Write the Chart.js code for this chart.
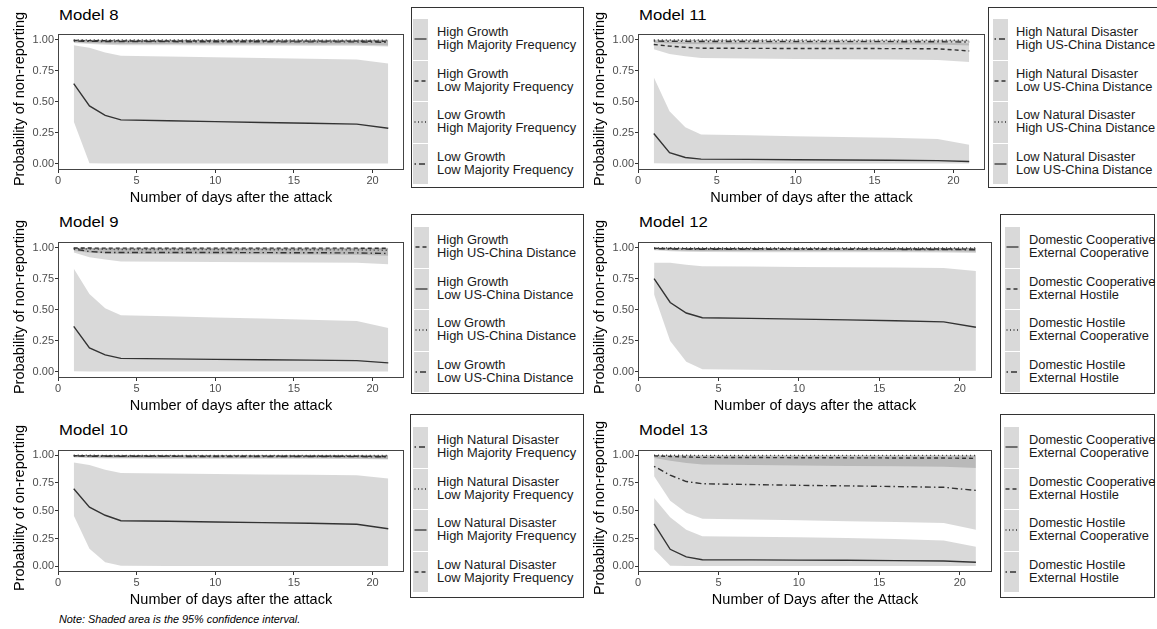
<!DOCTYPE html>
<html>
<head>
<meta charset="utf-8">
<script src="https://cdn.jsdelivr.net/npm/chart.js@4.4.0/dist/chart.umd.min.js"></script>
<style>
html, body { margin: 0; padding: 0; background: #fff; }
body { width: 1157px; height: 629px; position: relative; overflow: hidden; font-family: "Liberation Sans", Arial, sans-serif; }
canvas { position: absolute; }
.title { position: absolute; font-size: 15.5px; line-height: 16px; color: #000; white-space: nowrap; transform: scaleX(1.08); transform-origin: 0 50%; }
.ytitle { position: absolute; width: 240px; height: 16px; font-size: 14.5px; line-height: 16px; text-align: center; color: #000; white-space: nowrap; transform: rotate(-90deg); transform-origin: 50% 50%; }
.legend { position: absolute; border: 1px solid #333; background: #fff; box-sizing: border-box; }
.row { position: absolute; left: 0; right: 0; }
.key { position: absolute; top: 0; width: 15px; background: #d9d9d9; display: flex; align-items: center; justify-content: center; }
.lab { position: absolute; top: 0; display: flex; align-items: center; font-size: 12px; line-height: 13px; color: #1a1a1a; white-space: nowrap; transform: scaleX(1.07); transform-origin: 0 50%; }
.note { position: absolute; left: 59px; top: 615px; font-size: 10px; line-height: 10px; font-style: italic; color: #000; white-space: nowrap; transform: scaleX(1.085); transform-origin: 0 50%; }
</style>
</head>
<body>
<script>
// days after the attack, axis ticks
const days = [1, 2, 3, 4, 7, 10, 13, 16, 19, 21];
const xTicks = [0, 5, 10, 15, 20];
const yTicks = [0, 0.25, 0.5, 0.75, 1];

// Model 8
const m8Solid     = [0.646, 0.467, 0.390, 0.354, 0.347, 0.340, 0.333, 0.327, 0.320, 0.287];
const m8SolidLo   = [0.341, 0.004, 0.003, 0.003, 0.003, 0.003, 0.003, 0.003, 0.003, 0.003];
const m8SolidHi   = [0.956, 0.936, 0.897, 0.872, 0.866, 0.860, 0.853, 0.847, 0.841, 0.808];
const m8Dashed    = [0.995, 0.993, 0.992, 0.991, 0.990, 0.990, 0.990, 0.989, 0.989, 0.987];
const m8DashedLo  = [0.980, 0.974, 0.970, 0.967, 0.966, 0.965, 0.964, 0.963, 0.962, 0.955];
const m8DashedHi  = [0.999, 0.999, 0.999, 0.999, 0.999, 0.999, 0.999, 0.999, 0.999, 0.998];
const m8Dotted    = [0.999, 0.998, 0.998, 0.998, 0.998, 0.998, 0.998, 0.998, 0.997, 0.997];
const m8DottedLo  = [0.994, 0.992, 0.991, 0.990, 0.990, 0.990, 0.989, 0.989, 0.989, 0.987];
const m8DottedHi  = [1.000, 1.000, 1.000, 1.000, 1.000, 1.000, 1.000, 1.000, 1.000, 1.000];
const m8Dotdash   = [0.990, 0.988, 0.986, 0.985, 0.985, 0.984, 0.984, 0.983, 0.983, 0.980];
const m8DotdashLo = [0.975, 0.966, 0.961, 0.957, 0.956, 0.955, 0.954, 0.953, 0.952, 0.945];
const m8DotdashHi = [0.997, 0.996, 0.996, 0.995, 0.995, 0.995, 0.995, 0.995, 0.995, 0.994];

// Model 9
const m9Solid     = [0.367, 0.192, 0.136, 0.108, 0.104, 0.100, 0.097, 0.094, 0.090, 0.072];
const m9SolidLo   = [0.004, 0.003, 0.003, 0.003, 0.003, 0.003, 0.003, 0.003, 0.003, 0.003];
const m9SolidHi   = [0.833, 0.628, 0.513, 0.456, 0.447, 0.438, 0.429, 0.419, 0.410, 0.354];
const m9Dashed    = [0.998, 0.998, 0.997, 0.997, 0.997, 0.997, 0.997, 0.997, 0.997, 0.996];
const m9DashedLo  = [0.990, 0.988, 0.987, 0.986, 0.986, 0.985, 0.985, 0.985, 0.984, 0.982];
const m9DashedHi  = [1.000, 1.000, 1.000, 1.000, 1.000, 1.000, 1.000, 1.000, 1.000, 1.000];
const m9Dotted    = [0.995, 0.990, 0.988, 0.986, 0.986, 0.985, 0.985, 0.984, 0.983, 0.980];
const m9DottedLo  = [0.975, 0.960, 0.955, 0.950, 0.949, 0.948, 0.947, 0.945, 0.943, 0.936];
const m9DottedHi  = [0.999, 0.999, 0.999, 0.999, 0.999, 0.999, 0.999, 0.999, 0.999, 0.999];
const m9Dotdash   = [0.990, 0.970, 0.962, 0.962, 0.962, 0.962, 0.961, 0.960, 0.959, 0.954];
const m9DotdashLo = [0.962, 0.923, 0.905, 0.890, 0.888, 0.886, 0.884, 0.882, 0.880, 0.867];
const m9DotdashHi = [0.998, 0.993, 0.990, 0.990, 0.990, 0.990, 0.990, 0.990, 0.989, 0.988];

// Model 10
const m10Solid     = [0.698, 0.532, 0.460, 0.411, 0.406, 0.400, 0.394, 0.388, 0.379, 0.339];
const m10SolidLo   = [0.457, 0.158, 0.037, 0.006, 0.004, 0.003, 0.003, 0.003, 0.003, 0.003];
const m10SolidHi   = [0.934, 0.911, 0.868, 0.839, 0.835, 0.831, 0.827, 0.823, 0.819, 0.790];
const m10Dashed    = [0.995, 0.994, 0.993, 0.992, 0.992, 0.991, 0.991, 0.991, 0.990, 0.988];
const m10DashedLo  = [0.985, 0.979, 0.976, 0.974, 0.973, 0.973, 0.972, 0.972, 0.971, 0.966];
const m10DashedHi  = [0.999, 0.999, 0.999, 0.999, 0.999, 0.999, 0.999, 0.999, 0.999, 0.999];
const m10Dotted    = [0.999, 0.999, 0.998, 0.998, 0.998, 0.998, 0.998, 0.998, 0.998, 0.997];
const m10DottedLo  = [0.995, 0.993, 0.992, 0.991, 0.991, 0.991, 0.990, 0.990, 0.990, 0.988];
const m10DottedHi  = [1.000, 1.000, 1.000, 1.000, 1.000, 1.000, 1.000, 1.000, 1.000, 1.000];
const m10Dotdash   = [0.993, 0.991, 0.990, 0.989, 0.989, 0.988, 0.988, 0.988, 0.987, 0.985];
const m10DotdashLo = [0.980, 0.974, 0.971, 0.969, 0.968, 0.968, 0.967, 0.967, 0.966, 0.960];
const m10DotdashHi = [0.998, 0.998, 0.998, 0.997, 0.997, 0.997, 0.997, 0.997, 0.997, 0.996];

// Model 11
const m11Solid     = [0.244, 0.090, 0.051, 0.038, 0.036, 0.033, 0.031, 0.029, 0.026, 0.018];
const m11SolidLo   = [0.004, 0.003, 0.002, 0.002, 0.002, 0.002, 0.002, 0.002, 0.002, 0.002];
const m11SolidHi   = [0.697, 0.423, 0.295, 0.236, 0.230, 0.223, 0.217, 0.210, 0.200, 0.154];
const m11Dashed    = [0.962, 0.949, 0.940, 0.932, 0.931, 0.930, 0.930, 0.929, 0.928, 0.910];
const m11DashedLo  = [0.923, 0.885, 0.867, 0.854, 0.850, 0.846, 0.844, 0.842, 0.838, 0.820];
const m11DashedHi  = [0.990, 0.985, 0.982, 0.980, 0.980, 0.980, 0.979, 0.979, 0.978, 0.972];
const m11Dotted    = [0.999, 0.998, 0.998, 0.998, 0.998, 0.998, 0.997, 0.997, 0.997, 0.996];
const m11DottedLo  = [0.995, 0.992, 0.991, 0.990, 0.990, 0.990, 0.989, 0.989, 0.988, 0.986];
const m11DottedHi  = [1.000, 1.000, 1.000, 1.000, 1.000, 1.000, 1.000, 1.000, 1.000, 1.000];
const m11Dotdash   = [0.990, 0.988, 0.987, 0.986, 0.986, 0.985, 0.985, 0.985, 0.984, 0.982];
const m11DotdashLo = [0.976, 0.970, 0.967, 0.965, 0.964, 0.964, 0.963, 0.963, 0.962, 0.955];
const m11DotdashHi = [0.997, 0.996, 0.996, 0.996, 0.996, 0.996, 0.995, 0.995, 0.995, 0.994];

// Model 12
const m12Solid     = [0.751, 0.559, 0.474, 0.436, 0.431, 0.425, 0.419, 0.412, 0.403, 0.359];
const m12SolidLo   = [0.623, 0.249, 0.082, 0.020, 0.016, 0.013, 0.011, 0.010, 0.009, 0.008];
const m12SolidHi   = [0.879, 0.879, 0.864, 0.851, 0.849, 0.846, 0.844, 0.841, 0.838, 0.813];
const m12Dashed    = [0.996, 0.994, 0.993, 0.992, 0.992, 0.991, 0.991, 0.991, 0.990, 0.989];
const m12DashedLo  = [0.986, 0.980, 0.977, 0.975, 0.975, 0.974, 0.974, 0.973, 0.973, 0.968];
const m12DashedHi  = [1.000, 1.000, 0.999, 0.999, 0.999, 0.999, 0.999, 0.999, 0.999, 0.999];
const m12Dotted    = [0.999, 0.999, 0.998, 0.998, 0.998, 0.998, 0.998, 0.998, 0.998, 0.998];
const m12DottedLo  = [0.995, 0.993, 0.992, 0.991, 0.991, 0.991, 0.990, 0.990, 0.990, 0.989];
const m12DottedHi  = [1.000, 1.000, 1.000, 1.000, 1.000, 1.000, 1.000, 1.000, 1.000, 1.000];
const m12Dotdash   = [0.993, 0.990, 0.989, 0.988, 0.988, 0.987, 0.987, 0.987, 0.986, 0.984];
const m12DotdashLo = [0.980, 0.972, 0.968, 0.966, 0.965, 0.965, 0.964, 0.964, 0.963, 0.958];
const m12DotdashHi = [0.998, 0.998, 0.998, 0.998, 0.998, 0.998, 0.997, 0.997, 0.997, 0.997];

// Model 13
const m13Solid     = [0.383, 0.154, 0.086, 0.060, 0.059, 0.057, 0.055, 0.052, 0.049, 0.037];
const m13SolidLo   = [0.154, 0.006, 0.003, 0.003, 0.003, 0.003, 0.003, 0.003, 0.003, 0.003];
const m13SolidHi   = [0.614, 0.443, 0.329, 0.271, 0.267, 0.262, 0.255, 0.246, 0.234, 0.177];
const m13Dashed    = [0.994, 0.988, 0.984, 0.980, 0.979, 0.977, 0.976, 0.975, 0.974, 0.971];
const m13DashedLo  = [0.975, 0.950, 0.930, 0.915, 0.911, 0.906, 0.903, 0.900, 0.895, 0.885];
const m13DashedHi  = [1.000, 0.999, 0.999, 0.998, 0.998, 0.998, 0.998, 0.998, 0.998, 0.997];
const m13Dotted    = [0.999, 0.999, 0.999, 0.998, 0.998, 0.998, 0.998, 0.998, 0.998, 0.997];
const m13DottedLo  = [0.996, 0.994, 0.993, 0.992, 0.992, 0.991, 0.991, 0.991, 0.990, 0.989];
const m13DottedHi  = [1.000, 1.000, 1.000, 1.000, 1.000, 1.000, 1.000, 1.000, 1.000, 1.000];
const m13Dotdash   = [0.900, 0.820, 0.763, 0.743, 0.736, 0.729, 0.724, 0.718, 0.711, 0.683];
const m13DotdashLo = [0.811, 0.591, 0.483, 0.429, 0.422, 0.414, 0.407, 0.399, 0.391, 0.329];
const m13DotdashHi = [0.995, 0.993, 0.991, 0.990, 0.990, 0.990, 0.989, 0.989, 0.989, 0.987];

const yTitle = 'Probability of non-reporting';
const xTitle = 'Number of days after the attack';

const lineDash = { solid: [], dashed: [4, 3], dotted: [1, 3], dotdash: [1.5, 3, 6, 3] };
const svgDash = { solid: 'none', dashed: '4 3', dotted: '1 2.5', dotdash: '1.5 3 6 3' };

Chart.defaults.font.family = '"Liberation Sans", Arial, sans-serif';

const panels = [
  { title: 'Model 8', col: 0, box: { l: 58, t: 27, r: 404, b: 170 }, titleY: 15, yTitle, xTitle,
    legend: { l: 411, t: 7, w: 173, h: 181, keyX: 413, textX: 437, rowTop: 19 },
    series: [
      { type: 'solid', label: ['High Growth', 'High Majority Frequency'], est: m8Solid, lo: m8SolidLo, hi: m8SolidHi },
      { type: 'dashed', label: ['High Growth', 'Low Majority Frequency'], est: m8Dashed, lo: m8DashedLo, hi: m8DashedHi },
      { type: 'dotted', label: ['Low Growth', 'High Majority Frequency'], est: m8Dotted, lo: m8DottedLo, hi: m8DottedHi },
      { type: 'dotdash', label: ['Low Growth', 'Low Majority Frequency'], est: m8Dotdash, lo: m8DotdashLo, hi: m8DotdashHi }
    ] },
  { title: 'Model 9', col: 0, box: { l: 58, t: 235, r: 404, b: 378 }, titleY: 222, yTitle, xTitle,
    legend: { l: 411, t: 214, w: 173, h: 180, keyX: 414, textX: 437, rowTop: 227 },
    series: [
      { type: 'dashed', label: ['High Growth', 'High US-China Distance'], est: m9Dashed, lo: m9DashedLo, hi: m9DashedHi },
      { type: 'solid', label: ['High Growth', 'Low US-China Distance'], est: m9Solid, lo: m9SolidLo, hi: m9SolidHi },
      { type: 'dotted', label: ['Low Growth', 'High US-China Distance'], est: m9Dotted, lo: m9DottedLo, hi: m9DottedHi },
      { type: 'dotdash', label: ['Low Growth', 'Low US-China Distance'], est: m9Dotdash, lo: m9DotdashLo, hi: m9DotdashHi }
    ] },
  { title: 'Model 10', col: 0, box: { l: 58, t: 443, r: 404, b: 572 }, titleY: 430, yTitle: 'Probability of on-reporting', xTitle,
    legend: { l: 410, t: 414, w: 174, h: 184, keyX: 413, textX: 437, rowTop: 427 },
    series: [
      { type: 'dotdash', label: ['High Natural Disaster', 'High Majority Frequency'], est: m10Dotdash, lo: m10DotdashLo, hi: m10DotdashHi },
      { type: 'dotted', label: ['High Natural Disaster', 'Low Majority Frequency'], est: m10Dotted, lo: m10DottedLo, hi: m10DottedHi },
      { type: 'solid', label: ['Low Natural Disaster', 'High Majority Frequency'], est: m10Solid, lo: m10SolidLo, hi: m10SolidHi },
      { type: 'dashed', label: ['Low Natural Disaster', 'Low Majority Frequency'], est: m10Dashed, lo: m10DashedLo, hi: m10DashedHi }
    ] },
  { title: 'Model 11', col: 580, box: { l: 638, t: 27, r: 985, b: 170 }, titleY: 15, yTitle, xTitle,
    legend: { l: 988, t: 7, w: 200, h: 181, keyX: 993, textX: 1016, rowTop: 19 },
    series: [
      { type: 'dotdash', label: ['High Natural Disaster', 'High US-China Distance'], est: m11Dotdash, lo: m11DotdashLo, hi: m11DotdashHi },
      { type: 'dashed', label: ['High Natural Disaster', 'Low US-China Distance'], est: m11Dashed, lo: m11DashedLo, hi: m11DashedHi },
      { type: 'dotted', label: ['Low Natural Disaster', 'High US-China Distance'], est: m11Dotted, lo: m11DottedLo, hi: m11DottedHi },
      { type: 'solid', label: ['Low Natural Disaster', 'Low US-China Distance'], est: m11Solid, lo: m11SolidLo, hi: m11SolidHi }
    ] },
  { title: 'Model 12', col: 580, box: { l: 638, t: 235, r: 992, b: 378 }, titleY: 222, yTitle, xTitle,
    legend: { l: 1000, t: 214, w: 155, h: 180, keyX: 1005, textX: 1029, rowTop: 227 },
    series: [
      { type: 'solid', label: ['Domestic Cooperative', 'External Cooperative'], est: m12Solid, lo: m12SolidLo, hi: m12SolidHi },
      { type: 'dashed', label: ['Domestic Cooperative', 'External Hostile'], est: m12Dashed, lo: m12DashedLo, hi: m12DashedHi },
      { type: 'dotted', label: ['Domestic Hostile', 'External Cooperative'], est: m12Dotted, lo: m12DottedLo, hi: m12DottedHi },
      { type: 'dotdash', label: ['Domestic Hostile', 'External Hostile'], est: m12Dotdash, lo: m12DotdashLo, hi: m12DotdashHi }
    ] },
  { title: 'Model 13', col: 580, box: { l: 638, t: 443, r: 992, b: 572 }, titleY: 430, yTitle, xTitle: 'Number of Days after the Attack',
    legend: { l: 1000, t: 414, w: 155, h: 184, keyX: 1004, textX: 1029, rowTop: 427 },
    series: [
      { type: 'solid', label: ['Domestic Cooperative', 'External Cooperative'], est: m13Solid, lo: m13SolidLo, hi: m13SolidHi },
      { type: 'dashed', label: ['Domestic Cooperative', 'External Hostile'], est: m13Dashed, lo: m13DashedLo, hi: m13DashedHi },
      { type: 'dotted', label: ['Domestic Hostile', 'External Cooperative'], est: m13Dotted, lo: m13DottedLo, hi: m13DottedHi },
      { type: 'dotdash', label: ['Domestic Hostile', 'External Hostile'], est: m13Dotdash, lo: m13DotdashLo, hi: m13DotdashHi }
    ] }
];

// panel border like ggplot's panel.border
const boxPlugin = {
  id: 'panelBox',
  afterDraw(chart) {
    const { ctx, chartArea: a } = chart;
    ctx.save();
    ctx.strokeStyle = '#444';
    ctx.lineWidth = 1;
    ctx.strokeRect(Math.round(a.left) + 0.5, Math.round(a.top) + 0.5,
      Math.round(a.right - a.left) - 1, Math.round(a.bottom - a.top) - 1);
    ctx.restore();
  }
};

const pts = arr => days.map((d, i) => ({ x: d, y: arr[i] }));

function makeLegend(lg, series) {
  const div = document.createElement('div');
  div.className = 'legend';
  div.style.left = lg.l + 'px';
  div.style.top = lg.t + 'px';
  div.style.width = lg.w + 'px';
  div.style.height = lg.h + 'px';
  const rowH = 41.5;
  series.forEach((s, i) => {
    const row = document.createElement('div');
    row.className = 'row';
    row.style.top = (lg.rowTop - lg.t - 1 + i * rowH) + 'px';
    row.style.height = rowH + 'px';
    const key = document.createElement('div');
    key.className = 'key';
    key.style.left = (lg.keyX - lg.l - 1) + 'px';
    key.style.height = (rowH - 1) + 'px';
    key.innerHTML = '<svg width="15" height="4"><line x1="1.5" y1="2" x2="13.5" y2="2" stroke="#333" stroke-width="1.3" stroke-dasharray="' + svgDash[s.type] + '"/></svg>';
    const lab = document.createElement('div');
    lab.className = 'lab';
    lab.style.left = (lg.textX - lg.l - 1) + 'px';
    lab.style.height = (rowH - 1) + 'px';
    lab.innerHTML = s.label[0] + '<br>' + s.label[1];
    row.appendChild(key);
    row.appendChild(lab);
    div.appendChild(row);
  });
  document.body.appendChild(div);
}

function makePanel(p) {
  const xAxisH = 37;
  const top = p.box.t - 1;
  const w = p.box.r - p.col + 3;
  const h = p.box.b - top + xAxisH;
  const cv = document.createElement('canvas');
  cv.width = w; cv.height = h;
  cv.style.left = p.col + 'px'; cv.style.top = top + 'px';
  cv.style.width = w + 'px'; cv.style.height = h + 'px';
  document.body.appendChild(cv);

  const t = document.createElement('div');
  t.className = 'title';
  t.textContent = p.title;
  t.style.left = (p.box.l + 1) + 'px';
  t.style.top = (p.titleY - 7.8) + 'px';
  document.body.appendChild(t);

  // rotated y-axis title, allowed to run past the panel like in ggplot
  const yt = document.createElement('div');
  yt.className = 'ytitle';
  yt.textContent = p.yTitle;
  yt.style.left = (p.col + 18.5 - 120) + 'px';
  yt.style.top = ((p.box.t + p.box.b) / 2 - 8) + 'px';
  document.body.appendChild(yt);

  const datasets = [];
  // estimate lines first so they are drawn on top of the ribbons
  p.series.forEach(s => datasets.push({
    data: pts(s.est), borderColor: '#333', borderWidth: 1.4, borderDash: lineDash[s.type],
    pointRadius: 0, fill: false, tension: 0
  }));
  p.series.forEach(s => {
    datasets.push({ data: pts(s.lo), borderWidth: 0, borderColor: 'rgba(0,0,0,0)', pointRadius: 0, fill: false });
    datasets.push({ data: pts(s.hi), borderWidth: 0, borderColor: 'rgba(0,0,0,0)', pointRadius: 0,
      fill: '-1', backgroundColor: 'rgba(0,0,0,0.15)' });
  });

  new Chart(cv, {
    type: 'line',
    data: { datasets },
    options: {
      responsive: false,
      animation: false,
      events: [],
      layout: { padding: { top: 1, right: 3, left: 0, bottom: 0 } },
      plugins: { legend: { display: false }, tooltip: { enabled: false } },
      scales: {
        x: {
          type: 'linear', min: 0, max: 22,
          afterBuildTicks: s => { s.ticks = xTicks.map(v => ({ value: v })); },
          afterFit: s => { s.height = xAxisH; },
          grid: { drawOnChartArea: false, drawTicks: true, tickLength: 3, color: '#333' },
          border: { display: false },
          ticks: { autoSkip: false, maxRotation: 0, padding: 1, color: '#4d4d4d', font: { size: 11 } },
          title: { display: true, text: p.xTitle, color: '#000', font: { size: 14.5 }, padding: 0 }
        },
        y: {
          min: -0.05, max: 1.05,
          afterBuildTicks: s => { s.ticks = yTicks.map(v => ({ value: v })); },
          afterFit: s => { s.width = p.box.l - p.col; },
          grid: { drawOnChartArea: false, drawTicks: true, tickLength: 3, color: '#333' },
          border: { display: false },
          ticks: { autoSkip: false, padding: 1, color: '#4d4d4d', font: { size: 11 }, callback: v => v.toFixed(2) },
          title: { display: false }
        }
      }
    },
    plugins: [boxPlugin]
  });

  makeLegend(p.legend, p.series);
}

panels.forEach(makePanel);

const note = document.createElement('div');
note.className = 'note';
note.textContent = 'Note: Shaded area is the 95% confidence interval.';
document.body.appendChild(note);
</script>
</body>
</html>
